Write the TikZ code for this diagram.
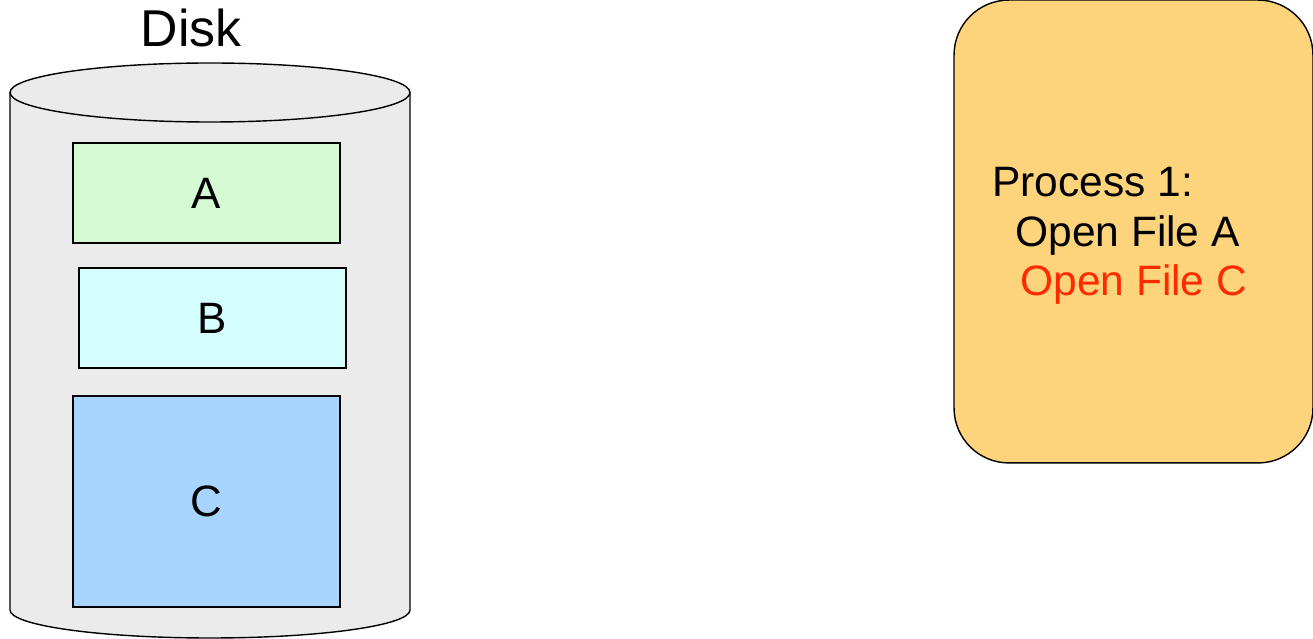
\documentclass[tikz,border=0pt]{standalone}
\usepackage{fontspec}
\setmainfont{Liberation Sans}
\usetikzlibrary{positioning}
\definecolor{discogris}{HTML}{EBEBEB}
\definecolor{verdeA}{HTML}{D5FAD3}
\definecolor{cianB}{HTML}{D5FEFF}
\definecolor{azulC}{HTML}{A8D5FF}
\definecolor{naranjaP}{HTML}{FDD37B}
\definecolor{rojoT}{HTML}{FF2A00}
\tikzset{
  archivo/.style={draw, line width=0.8pt, minimum width=5.34cm, inner sep=0pt, font=\fontsize{25}{30}\selectfont},
  proceso/.style={draw, line width=0.8pt, fill=naranjaP, rounded corners=1.1cm, minimum width=7.18cm, minimum height=9.26cm},
  linea/.style={anchor=base west, inner sep=0pt, font=\fontsize{24.2}{29}\selectfont},
}

\begin{document}
\begin{tikzpicture}[x=0.02cm, y=0.02cm]
          \useasboundingbox (0,0) rectangle (1313,639);
          % disco
          \fill[discogris] (10,546.5) -- (10,29) arc[start angle=180, end angle=360, x radius=200, y radius=28] -- (410,546.5) arc[start angle=0, end angle=180, x radius=200, y radius=29.5] -- cycle;
          \draw[line width=0.8pt] (10,546.5) -- (10,29) arc[start angle=180, end angle=360, x radius=200, y radius=28] -- (410,546.5);
          \draw[line width=0.8pt] (210,546.5) ellipse[x radius=200, y radius=29.5];
          \node[anchor=base, inner sep=0pt, font=\fontsize{29.5}{35}\selectfont] (disco) at (191,592) {Disk};
          \node[archivo, fill=verdeA, minimum height=2cm] (a) at (206.5,446) {A};
          \node[archivo, fill=cianB, minimum height=2cm] (b) at (212.5,321) {B};
          \node[archivo, fill=azulC, minimum height=4.22cm] (c) at (206.5,137.5) {C};
          % proceso
          \node[proceso] (p1) at (1133.5,407.5) {};
          \node[linea] (t1) at (992,442) {Process 1:};
          \node[linea] (t2) at (1015,392) {Open File A};
          \node[linea, text=rojoT] (t3) at (1020,343) {Open File C};
        \end{tikzpicture}
\end{document}
